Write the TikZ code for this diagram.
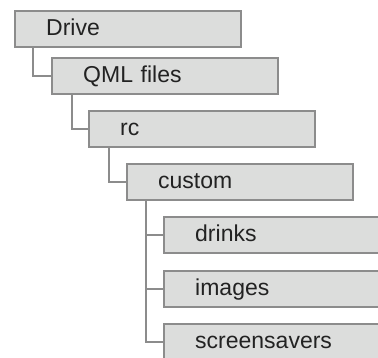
\documentclass[tikz,border=0pt]{standalone}
\usepackage{fontspec}
\setmainfont{Liberation Sans}
\usetikzlibrary{positioning}

\definecolor{boxfill}{HTML}{DCDDDC}
\definecolor{boxline}{HTML}{8C8C8C}
\definecolor{textgray}{HTML}{222222}

\begin{document}
\begin{tikzpicture}[
  x=1pt, y=-1pt,
  folder/.style={rectangle, draw=boxline, line width=2.4pt, fill=boxfill,
    minimum width=226pt, minimum height=36pt, text width=226pt,
    inner xsep=0pt, align=left, anchor=north west, text=textgray,
    font=\fontsize{23}{27}\selectfont, text depth=4pt, text height=16pt},
  link/.style={draw=boxline, line width=2.2pt},
]

\useasboundingbox (0,0) rectangle (378,357);
\clip (0,0) rectangle (378,357);

% Folder boxes
\node[folder] (drive)  at (14,10)  {\hspace*{31pt}Drive};
\node[folder] (qml)    at (51,57)  {\hspace*{31pt}QML files};
\node[folder] (rc)     at (88,110) {\hspace*{31pt}rc};
\node[folder] (custom) at (126,163) {\hspace*{31pt}custom};
\node[folder] (drinks) at (163,216) {\hspace*{31pt}drinks};
\node[folder] (images) at (163,270) {\hspace*{31pt}images};
\node[folder] (saver)  at (163,323) {\hspace*{31pt}screensavers};

% Tree links
\draw[link] ([xshift=19pt]drive.south west) |- (qml.west);
\draw[link] ([xshift=21pt]qml.south west) |- (rc.west);
\draw[link] ([xshift=21pt]rc.south west) |- (custom.west);
\draw[link] ([xshift=20pt]custom.south west) |- (drinks.west);
\draw[link] ([xshift=20pt]custom.south west) |- (images.west);
\draw[link] ([xshift=20pt]custom.south west) |- (saver.west);

\end{tikzpicture}
\end{document}
